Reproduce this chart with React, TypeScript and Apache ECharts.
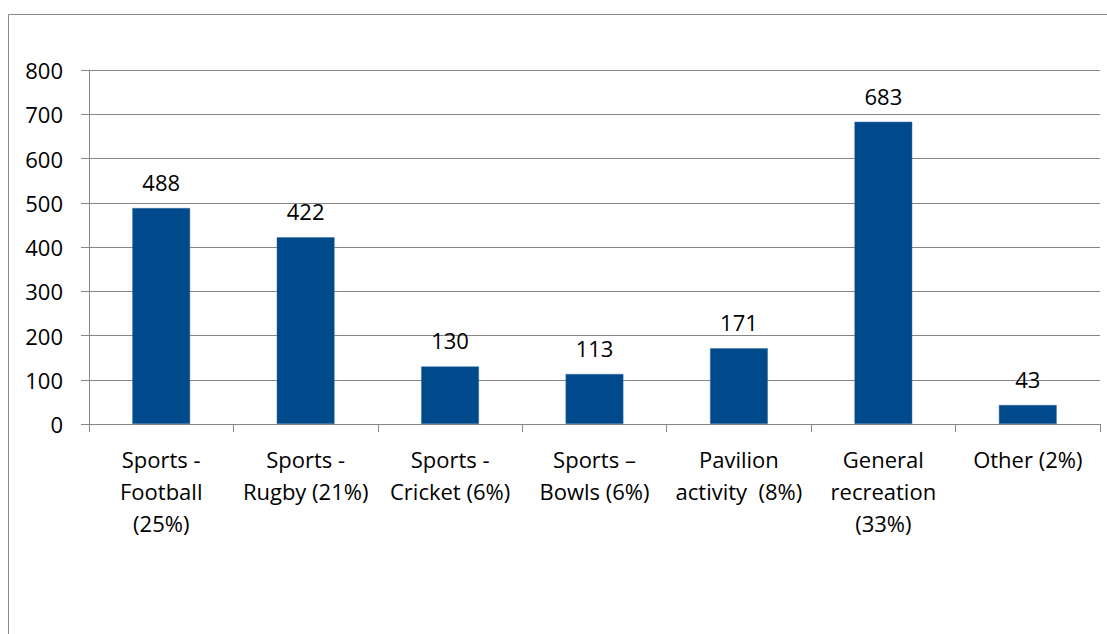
import React, { useEffect, useRef } from "react";
import * as echarts from "echarts";

const categories = [
  "Sports -\nFootball\n(25%)",
  "Sports -\nRugby (21%)",
  "Sports -\nCricket (6%)",
  "Sports –\nBowls (6%)",
  "Pavilion\nactivity  (8%)",
  "General\nrecreation\n(33%)",
  "Other (2%)",
];
const values = [488, 422, 130, 113, 171, 683, 43];
const yTicks = { min: 0, max: 800, interval: 100 };

const FONT = "'Open Sans', 'Noto Sans', sans-serif";

export default function App() {
  const ref = useRef<HTMLDivElement>(null);
  useEffect(() => {
    const chart = echarts.init(ref.current!, undefined, { renderer: "svg" });
    chart.setOption({
      animation: false,
      backgroundColor: "#ffffff",
      graphic: [
        {
          type: "rect",
          shape: { x: 8.5, y: 14.5, width: 1110, height: 630 },
          style: { fill: "none", stroke: "#8a8a8a", lineWidth: 1 },
          silent: true,
        },
      ],
      grid: { left: 89, right: 7, top: 70, bottom: 210, containLabel: false },
      xAxis: {
        type: "category",
        data: categories,
        axisLine: { show: true, lineStyle: { color: "#868686", width: 1 } },
        axisTick: { show: true, length: 8, lineStyle: { color: "#868686" } },
        axisLabel: {
          interval: 0,
          margin: 19,
          color: "#000",
          fontFamily: FONT,
          fontSize: 22,
          lineHeight: 32,
          align: "center",
        },
      },
      yAxis: {
        type: "value",
        min: yTicks.min,
        max: yTicks.max,
        interval: yTicks.interval,
        axisLine: { show: true, lineStyle: { color: "#868686", width: 1 } },
        axisTick: { show: true, length: 8, lineStyle: { color: "#868686" } },
        splitLine: { show: true, lineStyle: { color: "#868686", width: 1 } },
        axisLabel: {
          margin: 26,
          color: "#000",
          fontFamily: FONT,
          fontSize: 22,
        },
      },
      series: [
        {
          type: "bar",
          data: values,
          barWidth: "40%",
          itemStyle: { color: "#004A8C", borderColor: "#3A6E9E", borderWidth: 0.5 },
          label: {
            show: true,
            position: "top",
            distance: 15,
            color: "#000",
            fontFamily: FONT,
            fontSize: 22,
          },
        },
      ],
    });
    return () => chart.dispose();
  }, []);
  return (
    <div
      ref={ref}
      style={{ position: "absolute", left: 0, top: 0, width: 1107, height: 634 }}
    />
  );
}
